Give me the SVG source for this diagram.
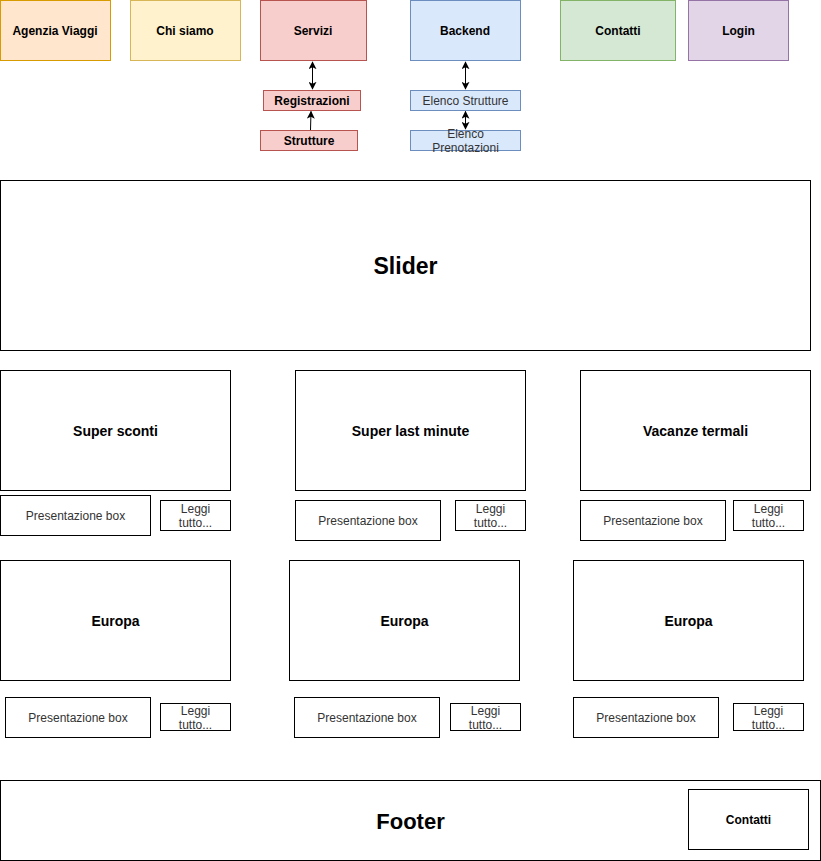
<svg xmlns="http://www.w3.org/2000/svg" width="821" height="861" viewBox="0 0 821 861">
<style>
text{font-family:"Liberation Sans",Arial,sans-serif;font-size:12px;text-anchor:middle;dominant-baseline:central;fill:#000}
.b{font-weight:bold}
.m{font-size:14px;font-weight:bold}
.big{font-size:22px;font-weight:bold}
.n{fill:#333}
.w{fill:#fff;stroke:#000;stroke-width:1}
.or{fill:#ffe6cc;stroke:#d79b00}
.ye{fill:#fff2cc;stroke:#d6b656}
.re{fill:#f8cecc;stroke:#b85450}
.bl{fill:#dae8fc;stroke:#6c8ebf}
.gr{fill:#d5e8d4;stroke:#82b366}
.pu{fill:#e1d5e7;stroke:#9673a6}
.c{stroke:#000;stroke-width:1;fill:none}
</style>
<defs>
<marker id="ah" viewBox="0 0 10 10" refX="9" refY="5" markerWidth="8" markerHeight="8" markerUnits="userSpaceOnUse" orient="auto-start-reverse">
<path d="M0,0 L10,5 L0,10 L2.5,5 Z" fill="#000"/>
</marker>
</defs>
<g id="agenzia"><rect class="or" x="0.5" y="0.5" width="110" height="60"/><text class="b" x="55" y="30.5">Agenzia Viaggi</text></g>
<g id="chisiamo"><rect class="ye" x="130.5" y="0.5" width="110" height="60"/><text class="b" x="185" y="30.5">Chi siamo</text></g>
<g id="servizi"><rect class="re" x="260.5" y="0.5" width="106" height="60"/><text class="b" x="313" y="30.5">Servizi</text></g>
<g id="backend"><rect class="bl" x="410.5" y="0.5" width="110" height="60"/><text class="b" x="465" y="30.5">Backend</text></g>
<g id="contatti-top"><rect class="gr" x="560.5" y="0.5" width="115" height="60"/><text class="b" x="618" y="30.5">Contatti</text></g>
<g id="login"><rect class="pu" x="688.5" y="0.5" width="100" height="60"/><text class="b" x="738.5" y="30.5">Login</text></g>
<g id="registrazioni"><rect class="re" x="263.5" y="90.5" width="97" height="20"/><text class="b" x="312" y="100.5">Registrazioni</text></g>
<g id="strutture"><rect class="re" x="260.5" y="130.5" width="97" height="20"/><text class="b" x="309" y="140.5">Strutture</text></g>
<g id="elenco-strutture"><rect class="bl" x="410.5" y="90.5" width="110" height="20"/><text class="n" x="465.5" y="100.5">Elenco Strutture</text></g>
<g id="elenco-prenotazioni"><rect class="bl" x="410.5" y="130.5" width="110" height="20"/><text class="n" x="465.5" y="133.5">Elenco</text><text class="n" x="465.5" y="147.5">Prenotazioni</text></g>
<g id="connectors">
<line class="c" x1="312.5" y1="62" x2="312.5" y2="89" marker-start="url(#ah)" marker-end="url(#ah)"/>
<line class="c" x1="310.5" y1="130" x2="311" y2="111.5" marker-end="url(#ah)"/>
<line class="c" x1="465.5" y1="62" x2="465.5" y2="89" marker-start="url(#ah)" marker-end="url(#ah)"/>
<line class="c" x1="465.5" y1="111.5" x2="465.5" y2="129" marker-start="url(#ah)" marker-end="url(#ah)"/>
</g>
<g id="slider"><rect class="w" x="0.5" y="180.5" width="810" height="170"/><text class="big" x="405.5" y="266" style="font-size:23px">Slider</text></g>
<g id="super-sconti"><rect class="w" x="0.5" y="370.5" width="230" height="120"/><text class="m" x="115.5" y="431">Super sconti</text></g>
<g id="super-last"><rect class="w" x="295.5" y="370.5" width="230" height="120"/><text class="m" x="410.5" y="431">Super last minute</text></g>
<g id="vacanze"><rect class="w" x="580.5" y="370.5" width="230" height="120"/><text class="m" x="695.5" y="431">Vacanze termali</text></g>
<g id="pres1"><rect class="w" x="0.5" y="495.5" width="150" height="40"/><text class="n" x="75.5" y="515.5">Presentazione box</text></g>
<g id="leggi1"><rect class="w" x="160.5" y="500.5" width="70" height="30"/><text class="n" x="195.5" y="508.5">Leggi</text><text class="n" x="195.5" y="522.5">tutto...</text></g>
<g id="pres2"><rect class="w" x="295.5" y="500.5" width="145" height="40"/><text class="n" x="368" y="520.5">Presentazione box</text></g>
<g id="leggi2"><rect class="w" x="455.5" y="500.5" width="70" height="30"/><text class="n" x="490.5" y="508.5">Leggi</text><text class="n" x="490.5" y="522.5">tutto...</text></g>
<g id="pres3"><rect class="w" x="580.5" y="500.5" width="145" height="40"/><text class="n" x="653" y="520.5">Presentazione box</text></g>
<g id="leggi3"><rect class="w" x="733.5" y="500.5" width="70" height="30"/><text class="n" x="768.5" y="508.5">Leggi</text><text class="n" x="768.5" y="522.5">tutto...</text></g>
<g id="europa1"><rect class="w" x="0.5" y="560.5" width="230" height="120"/><text class="m" x="115.5" y="621">Europa</text></g>
<g id="europa2"><rect class="w" x="289.5" y="560.5" width="230" height="120"/><text class="m" x="404.5" y="621">Europa</text></g>
<g id="europa3"><rect class="w" x="573.5" y="560.5" width="230" height="120"/><text class="m" x="688.5" y="621">Europa</text></g>
<g id="pres4"><rect class="w" x="5.5" y="697.5" width="145" height="40"/><text class="n" x="78" y="717.5">Presentazione box</text></g>
<g id="leggi4"><rect class="w" x="160.5" y="703.5" width="70" height="27"/><text class="n" x="195.5" y="710.5">Leggi</text><text class="n" x="195.5" y="724.5">tutto...</text></g>
<g id="pres5"><rect class="w" x="294.5" y="697.5" width="145" height="40"/><text class="n" x="367" y="717.5">Presentazione box</text></g>
<g id="leggi5"><rect class="w" x="450.5" y="703.5" width="70" height="27"/><text class="n" x="485.5" y="710.5">Leggi</text><text class="n" x="485.5" y="724.5">tutto...</text></g>
<g id="pres6"><rect class="w" x="573.5" y="697.5" width="145" height="40"/><text class="n" x="646" y="717.5">Presentazione box</text></g>
<g id="leggi6"><rect class="w" x="733.5" y="703.5" width="70" height="27"/><text class="n" x="768.5" y="710.5">Leggi</text><text class="n" x="768.5" y="724.5">tutto...</text></g>
<g id="footer"><rect class="w" x="0.5" y="780.5" width="820" height="80"/><text class="big" x="410.5" y="821">Footer</text></g>
<g id="contatti-footer"><rect class="w" x="688.5" y="789.5" width="120" height="60"/><text class="b" x="748.5" y="819.5">Contatti</text></g>
</svg>
